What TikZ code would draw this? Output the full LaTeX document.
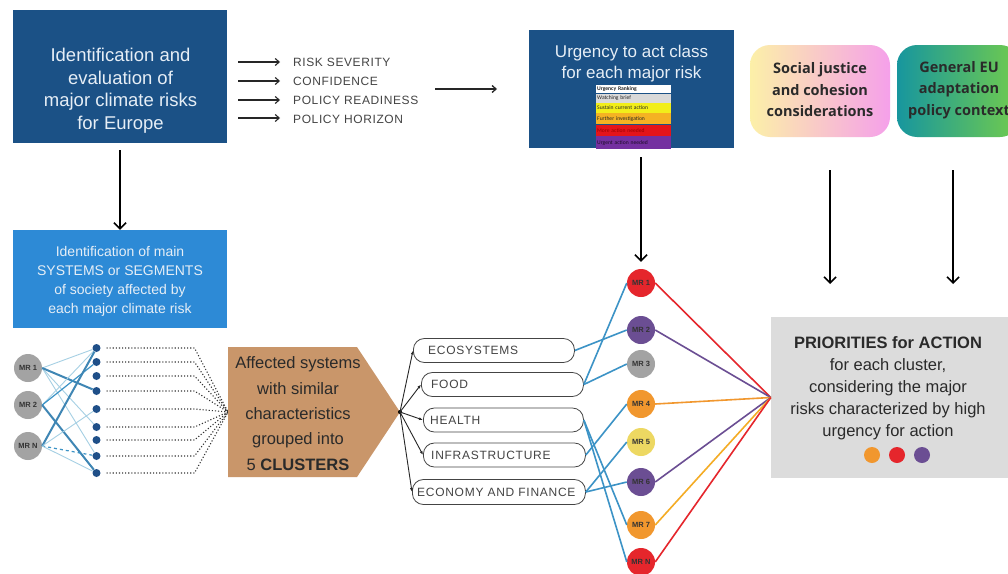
\documentclass[tikz,border=0pt]{standalone}
\usepackage{fontspec}
\setmainfont{Liberation Sans}
\newfontfamily\osans{Open Sans}
\newfontfamily\calib{Carlito}
\usetikzlibrary{arrows.meta}
\definecolor{dblue}{HTML}{1B5186}
\definecolor{mblue}{HTML}{2D8AD6}
\definecolor{lighttxt}{HTML}{E6EEF6}
\definecolor{tanc}{HTML}{C9966A}
\definecolor{txt}{HTML}{2A2A2A}
\definecolor{gtxt}{HTML}{444444}
\definecolor{lnk}{HTML}{3C93C6}
\definecolor{lnkd}{HTML}{3F86B4}
\definecolor{lnkl}{HTML}{A6D0E4}
\definecolor{dotb}{HTML}{1F4F88}
\definecolor{mrgrey}{HTML}{A3A3A3}
\definecolor{mrred}{HTML}{E5262C}
\definecolor{mrpurple}{HTML}{6B4E93}
\definecolor{mrorange}{HTML}{F1972E}
\definecolor{mryellow}{HTML}{EDD862}
\definecolor{prioc}{HTML}{DCDCDC}
\definecolor{sjL}{HTML}{FCF0A8}
\definecolor{sjR}{HTML}{F5A0EA}
\definecolor{euL}{HTML}{17969E}
\definecolor{euR}{HTML}{72CC4C}
\definecolor{lgGrey}{HTML}{D9D9D9}
\definecolor{lgYellow}{HTML}{F2EE1A}
\definecolor{lgOrange}{HTML}{F5B223}
\definecolor{lgRed}{HTML}{E4141A}
\definecolor{lgPurple}{HTML}{7430A0}
\tikzset{
  bigarr/.style={-{Straight Barb[length=6pt,width=12pt]}, line width=1.6pt, black},
  smarr/.style={-{Straight Barb[length=4pt,width=7pt]}, line width=1.1pt, black!85},
  crit/.style={anchor=west, font=\fontsize{12}{14}\selectfont\addfontfeature{LetterSpace=5}, text=gtxt, inner sep=0pt},
  clbox/.style={draw=gtxt, line width=0.8pt, rounded corners=11pt, minimum height=24pt, anchor=west, inner sep=0pt},
  cltxt/.style={anchor=west, inner sep=0pt, text=gtxt, font=\fontsize{12}{14}\selectfont\addfontfeature{LetterSpace=6}},
  mrs/.style={circle, minimum size=28pt, inner sep=0pt, font=\bfseries\fontsize{7.5}{8}\selectfont, text=black!80},
  bdot/.style={circle, fill=dotb, minimum size=8pt, inner sep=0pt},
  lgrow/.style={anchor=north west, minimum width=75pt, inner sep=0pt, text width=73pt, align=left, font=\calib\fontsize{5.6}{6}\selectfont, text=black!85},
  thinl/.style={lnkl, line width=0.9pt},
  thickl/.style={lnkd, line width=2pt},
  midl/.style={lnk, line width=1.2pt},
  blink/.style={lnk, line width=1.6pt},
  dotline/.style={black!80, line width=1.1pt, dotted},
  tree/.style={black!85, line width=0.9pt, -{Latex[length=4pt,width=3pt]}},
  plink/.style={line width=1.6pt},
}
\begin{document}
\begin{tikzpicture}[x=1pt,y=-1pt]
\useasboundingbox (0,0) rectangle (1008,573);
\fill[white] (0,0) rectangle (1008,573);

% --- top-left box
\node[fill=dblue, minimum width=214pt, minimum height=133pt, inner sep=0pt] (idmain) at (120,76.5) {};
\node[text=lighttxt, align=center, font=\fontsize{18.5}{22.5}\selectfont] (idmaint) at (120.5,90.5) {Identification and\\evaluation of\\major climate risks\\for Europe};

% --- criteria
\node[crit] (c1l) at (293,62) {RISK SEVERITY};
\node[crit] (c2l) at (293,81) {CONFIDENCE};
\node[crit] (c3l) at (293,100) {POLICY READINESS};
\node[crit] (c4l) at (293,119.5) {POLICY HORIZON};
\coordinate (a1) at (238,62);
\coordinate (a2) at (238,81);
\coordinate (a3) at (238,100);
\coordinate (a4) at (238,118);
\draw[smarr, shorten >=13pt] (a1) -- (c1l.west);
\draw[smarr, shorten >=13pt] (a2) -- (c2l.west);
\draw[smarr, shorten >=13pt] (a3) -- (c3l.west);
\draw[smarr, shorten >=13pt] (a4) -- (c4l.west |- a4);
\coordinate (ra1) at (435,89);
\coordinate (ra2) at (497,89);
\draw[smarr, line width=1.3pt] (ra1) -- (ra2);

% --- urgency box
\node[fill=dblue, minimum width=205pt, minimum height=118pt, inner sep=0pt] (urg) at (631.5,89) {};
\node[text=lighttxt, align=center, font=\fontsize{17}{21}\selectfont] (urgt) at (631.5,64) {Urgency to act class\\for each major risk};
\node[lgrow, fill=white, minimum height=8pt, font=\calib\bfseries\fontsize{5.6}{6}\selectfont] (lg1) at (596,85) {Urgency Ranking};
\node[lgrow, fill=lgGrey, minimum height=9pt] (lg2) at (lg1.south west) {Watching brief};
\node[lgrow, fill=lgYellow, minimum height=10pt] (lg3) at (lg2.south west) {Sustain current action};
\node[lgrow, fill=lgOrange, minimum height=11pt] (lg4) at (lg3.south west) {Further investigation};
\node[lgrow, fill=lgRed, minimum height=11pt, text=red!60!black] (lg5) at (lg4.south west) {More action needed};
\node[lgrow, fill=lgPurple, minimum height=13pt, text=black!75!lgPurple] (lg6) at (lg5.south west) {Urgent action needed};

% --- social justice / EU boxes
\node[rounded corners=20pt, left color=sjL, right color=sjR, minimum width=140pt, minimum height=92pt, inner sep=0pt] (sj) at (820,91) {};
\node[align=center, text=txt, font=\osans\bfseries\fontsize{14.5}{21.5}\selectfont] (sjt) at (820,90) {Social justice\\and cohesion\\considerations};
\node[rounded corners=20pt, left color=euL, right color=euR, minimum width=123pt, minimum height=92pt, inner sep=0pt] (eu) at (958.5,91) {};
\node[align=center, text=txt, font=\osans\bfseries\fontsize{14.5}{21.5}\selectfont] (eut) at (959,90) {General EU\\adaptation\\policy context};

% --- second blue box
\node[fill=mblue, minimum width=214pt, minimum height=98pt, inner sep=0pt] (idsys) at (120,279) {};
\node[text=lighttxt, align=center, font=\fontsize{14}{19}\selectfont] (idsyst) at (120,281) {Identification of main\\SYSTEMS or SEGMENTS\\of society affected by\\each major climate risk};
\draw[bigarr, shorten <=7pt] (idmain.south) -- (idsys.north);

% --- left network
\node[mrs, fill=mrgrey] (m1) at (28,368) {MR 1};
\node[mrs, fill=mrgrey] (m2) at (28,405) {MR 2};
\node[mrs, fill=mrgrey] (mN) at (28,446) {MR N};
\node[bdot] (d1) at (96.5,348) {};
\node[bdot] (d2) at (96.5,362) {};
\node[bdot] (d3) at (96.5,376) {};
\node[bdot] (d4) at (96.5,391) {};
\node[bdot] (d5) at (96.5,409) {};
\node[bdot] (d6) at (96.5,427) {};
\node[bdot] (d7) at (96.5,440) {};
\node[bdot] (d8) at (96.5,456) {};
\node[bdot] (d9) at (96.5,473) {};
\draw[thinl] (m1.east) -- (d1);
\draw[thinl] (m1.east) -- (d6);
\draw[thinl] (m1.east) -- (d8);
\draw[thickl] (m1.east) -- (d4);
\draw[thinl] (m2.east) -- (d1);
\draw[midl] (m2.east) -- (d2);
\draw[thickl] (m2.east) -- (d9);
\draw[thickl] (mN.east) -- (d1);
\draw[thinl] (mN.east) -- (d5);
\draw[midl, dashed] (mN.east) -- (d8);
\draw[thinl] (mN.east) -- (d9);
\coordinate (conv) at (228,412);
\foreach \i in {1,...,9}{
  \draw[dotline] ([xshift=10pt]d\i.center) -- ([xshift=98pt]d\i.center) -- (conv);
}

% --- pentagon
\fill[tanc] (228,347) -- (357,347) -- (400,412) -- (357,477) -- (228,477) -- cycle;
\coordinate (tip) at (400,412);
\node[align=center, text=txt, font=\fontsize{16.5}{25.3}\selectfont] (clus) at (298,413.5) {Affected systems\\with similar\\characteristics\\grouped into\\5 \textbf{CLUSTERS}};

% --- cluster boxes
\node[clbox, minimum width=161pt] (eco) at (413,350.5) {};
\node[clbox, minimum width=162pt] (food) at (421,384.5) {};
\node[clbox, minimum width=160pt] (health) at (423,420) {};
\node[clbox, minimum width=162pt] (infra) at (423,455) {};
\node[clbox, minimum width=173pt, minimum height=25pt] (econ) at (412,492) {};
\node[cltxt] (ecot) at ([xshift=15pt]eco.west) {ECOSYSTEMS};
\node[cltxt] (foodt) at ([xshift=10pt]food.west) {FOOD};
\node[cltxt] (healtht) at ([xshift=7pt]health.west) {HEALTH};
\node[cltxt] (infrat) at ([xshift=8pt]infra.west) {INFRASTRUCTURE};
\node[cltxt] (econt) at ([xshift=5pt]econ.west) {ECONOMY AND FINANCE};
\fill (tip) circle (2pt);
\draw[tree] (tip) -- (eco.west);
\draw[tree] (tip) -- (food.west);
\draw[tree] (tip) -- (health.west);
\draw[tree] (tip) -- (infra.west);
\draw[tree] (tip) -- (econ.west);

% --- priorities box
\node[fill=prioc, minimum width=237pt, minimum height=161pt, inner sep=0pt] (prio) at (889.5,397.5) {};
\node[align=center, text=txt, font=\fontsize{16.5}{22}\selectfont] (priot) at (888,388) {\textbf{PRIORITIES for ACTION}\\for each cluster,\\considering the major\\risks characterized by high\\urgency for action};
\node[circle, fill=mrorange, minimum size=16pt, inner sep=0pt] (pd1) at (872,455) {};
\node[circle, fill=mrred, minimum size=16pt, inner sep=0pt] (pd2) at (897,455) {};
\node[circle, fill=mrpurple, minimum size=16pt, inner sep=0pt] (pd3) at (922,455) {};

% --- coloured MR column
\node[mrs, fill=mrred] (c1) at (641,283) {MR 1};
\node[mrs, fill=mrpurple] (c2) at (641,330) {MR 2};
\node[mrs, fill=mrgrey] (c3) at (641,364) {MR 3};
\node[mrs, fill=mrorange] (c4) at (641,404) {MR 4};
\node[mrs, fill=mryellow] (c5) at (641,442) {MR 5};
\node[mrs, fill=mrpurple] (c6) at (641,482) {MR 6};
\node[mrs, fill=mrorange] (c7) at (641,525) {MR 7};
\node[mrs, fill=mrred] (c8) at (641,562) {MR N};

\draw[blink] (eco.east) -- (c2.west);
\draw[blink] (food.east) -- (c1.west);
\draw[blink] (food.east) -- (c3.west);
\draw[blink] (health.east) -- (c7.west);
\draw[blink] (health.east) -- (c8.west);
\draw[blink] (infra.east) -- (c4.west);
\draw[blink] (econ.east) -- (c5.west);
\draw[blink] (econ.east) -- (c6.west);

\draw[plink, mrred] (c1.east) -- (prio.west);
\draw[plink, mrpurple] (c2.east) -- (prio.west);
\draw[plink, mrorange] (c4.east) -- (prio.west);
\draw[plink, mrpurple] (c6.east) -- (prio.west);
\draw[plink, mrorange!80!yellow] (c7.east) -- (prio.west);
\draw[plink, mrred] (c8.east) -- (prio.west);

% --- vertical arrows
\draw[bigarr, shorten <=9pt, shorten >=7pt] (urg.south -| c1.north) -- (c1.north);
\coordinate (sa1) at (830,170);
\coordinate (sa2) at (830,284);
\coordinate (ea1) at (953,170);
\coordinate (ea2) at (953,284);
\draw[bigarr] (sa1) -- (sa2);
\draw[bigarr] (ea1) -- (ea2);
\end{tikzpicture}
\end{document}
